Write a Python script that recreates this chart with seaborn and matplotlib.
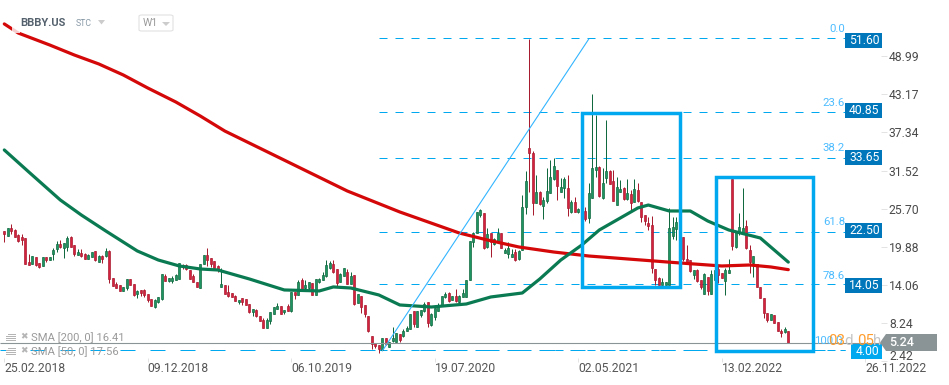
#!/usr/bin/env python3
# BBBY.US weekly candles with SMA 200 / SMA 50 and fibonacci levels
# x axis is the candle number: the chart skips some weeks, so dates are only labels

import pandas as pd
import seaborn as sns
import matplotlib.pyplot as plt
from matplotlib.patches import Polygon, Rectangle, FancyBboxPatch

opens = [
    22.31,21.6,22.72,22.41,21.75,21.45,21.24,17.58,17.23,18.3,17.38,16.92,18.3,17.94,18.8,
    19.57,20.33,19.77,19.92,21.4,20.13,18.7,18.9,18.8,18.09,18.35,19.21,17.63,18.45,18.5,
    19.26,15.14,14.23,14.02,13.21,13.67,14.94,14.18,12.7,13.26,13.31,12.65,11.89,10.72,11.48,
    11.93,15.39,14.73,14.73,14.88,15.03,17.12,17.12,16.3,15.39,14.58,13.66,17.27,18.64,18.14,
    17.68,16.97,13.76,14.07,12.95,12.8,12.39,11.53,12.03,11.88,11.12,9.95,10.2,9.29,8.68,
    7.56,8.58,9.64,10.46,10.81,9.9,10.81,10.1,13.0,12.59,14.83,13.66,13.56,14.37,12.59,
    14.58,14.88,15.44,16.71,17.22,16.51,14.53,15.49,16.0,14.27,15.59,11.37,12.34,10.97,9.34,
    6.29,5.28,4.87,4.16,5.94,4.56,5.58,5.38,6.55,6.29,7.11,7.41,10.11,7.72,9.5,
    10.16,11.43,7.97,9.24,10.16,10.97,12.29,12.8,11.79,12.39,11.48,12.19,12.29,14.84,20.68,
    21.95,24.8,25.01,19.92,22.06,20.33,20.68,21.95,19.0,18.75,18.4,19.11,18.04,19.41,25.92,
    34.92,34.16,26.63,28.26,26.18,26.94,28.16,30.19,31.62,28.26,28.82,28.82,25.26,26.68,25.26,
    25.41,25.31,24.29,27.29,31.62,32.07,27.29,30.45,31.46,29.89,26.28,28.31,28.87,27.14,27.95,
    26.79,28.62,26.68,24.74,23.47,23.17,16.51,15.19,14.07,14.07,14.07,21.59,22.56,22.46,21.44,
    17.98,17.88,15.59,16.36,14.83,12.69,15.34,12.64,14.83,16.46,15.85,14.73,15.95,30.19,19.91,
    21.95,22.05,23.07,19.41,17.37,17.22,13.71,12.03,9.74,8.73,9.49,8.47,7.1,6.95,7.0,
]
closes = [
    21.91,22.72,22.36,21.35,20.84,20.99,17.33,17.18,18.45,17.13,16.82,18.3,17.89,18.35,19.41,
    20.33,19.87,20.43,21.19,19.92,18.8,19.11,18.55,18.09,18.6,19.06,17.89,18.5,18.09,19.21,
    14.99,13.97,13.67,13.21,13.72,14.94,14.12,12.5,13.16,12.85,12.55,11.79,10.87,11.79,12.24,
    15.75,14.73,15.08,15.13,15.54,17.37,16.86,16.46,15.03,14.47,13.71,17.22,18.64,17.93,17.22,
    16.61,16.51,14.17,12.75,12.39,12.29,11.68,11.83,11.53,11.07,10.0,10.36,9.34,8.63,7.56,
    8.68,9.9,10.66,10.86,9.69,10.2,10.15,13.05,12.59,14.53,13.51,14.02,14.47,12.59,14.93,
    14.98,15.54,17.12,17.42,16.1,14.42,15.7,16.61,14.27,15.49,11.17,12.69,10.67,9.65,7.11,
    5.07,4.82,4.26,5.94,5.07,5.43,5.94,6.7,5.68,7.06,7.51,9.6,8.07,10.11,10.26,
    11.17,8.23,9.65,10.51,10.97,12.39,12.7,11.63,12.39,11.68,12.39,12.8,14.84,20.79,22.06,
    25.21,25.51,19.67,21.85,20.68,21.04,22.06,19.77,19.41,19.67,18.8,17.89,19.31,26.02,29.89,
    34.26,26.63,28.21,26.43,27.04,28.41,30.5,32.23,29.23,29.02,30.24,25.87,26.79,25.26,25.67,
    25.11,24.19,28.06,31.87,32.02,27.65,29.58,31.41,29.48,26.94,28.97,28.72,27.19,28.11,26.63,
    28.72,26.94,24.49,23.88,23.07,16.71,14.83,14.07,14.47,14.47,22.71,22.86,23.63,21.19,17.98,
    17.58,16.25,16.3,14.68,13.81,15.69,13.2,15.69,16.36,15.59,15.19,16.36,16.36,20.02,22.1,
    22.86,22.71,19.66,17.63,18.49,13.71,12.03,9.74,8.73,9.59,8.22,7.1,6.69,7.35,5.24,
]
highs = [
    22.31,22.72,23.33,22.62,21.85,21.85,21.24,18.75,18.45,18.3,17.38,18.3,18.3,18.35,19.77,
    20.74,20.94,20.43,21.55,21.55,20.13,19.57,19.57,19.01,18.8,19.06,19.21,18.6,18.65,19.67,
    19.41,15.14,14.53,14.02,13.72,14.94,14.94,14.18,13.26,13.26,13.41,12.65,11.89,11.89,12.29,
    15.75,15.7,15.19,15.49,15.7,17.37,17.22,17.22,16.3,15.7,14.58,17.22,18.64,19.66,18.14,
    17.68,17.12,16.61,14.07,14.07,12.8,12.54,11.83,12.03,11.88,11.12,10.36,10.36,9.29,8.98,
    8.98,9.9,10.66,11.27,10.81,10.2,11.12,13.05,13.0,14.83,15.08,14.88,14.47,14.37,14.93,
    15.08,16.0,17.88,17.73,17.88,16.51,15.85,16.61,16.51,16.0,15.59,12.69,12.34,10.97,9.34,
    6.29,5.28,4.87,5.94,5.94,5.43,7.72,6.7,6.55,7.31,7.82,9.6,10.11,10.11,10.26,
    11.53,11.43,9.75,10.51,11.28,12.39,13.06,13.06,12.39,13.41,12.55,13.41,14.84,20.79,22.16,
    25.21,25.62,25.01,22.72,22.06,21.19,22.72,21.95,19.67,20.68,19.51,19.51,19.41,27.8,31.46,
    51.6,34.46,30.85,28.46,27.45,31.87,33.14,33.4,31.62,30.34,30.5,30.85,27.04,27.45,25.87,
    25.92,26.02,29.58,43.21,40.0,32.23,31.87,39.24,31.62,31.62,30.6,30.09,29.07,30.19,28.57,
    30.19,29.58,26.68,24.74,24.49,24.59,16.51,15.34,15.08,14.47,25.76,24.49,24.49,23.47,21.44,
    20.17,17.88,16.3,16.56,14.83,15.85,15.34,16.36,16.36,17.12,15.95,16.61,17.98,30.19,22.1,
    25.0,28.81,23.98,20.17,18.49,17.22,13.71,12.03,9.85,9.59,9.49,8.47,7.3,7.61,7.0,
]
lows = [
    20.68,21.6,21.85,21.35,20.68,20.23,17.33,17.18,17.23,17.02,16.72,16.92,17.63,17.94,17.89,
    19.16,19.67,18.24,19.26,19.92,18.55,18.7,18.35,18.04,18.04,18.3,17.79,17.63,17.43,18.4,
    14.43,13.97,13.62,13.21,13.21,13.31,14.12,12.4,12.09,12.4,12.19,11.53,10.87,10.57,11.28,
    11.78,14.68,14.58,14.42,14.88,15.03,16.51,16.36,15.03,14.47,13.71,13.66,17.27,17.02,16.76,
    16.61,16.1,13.76,12.75,12.29,12.29,11.63,11.22,11.02,11.07,9.85,9.39,9.14,8.63,7.56,
    7.56,8.07,9.64,10.46,9.69,9.69,10.1,10.0,11.93,12.59,13.46,13.3,13.25,12.59,12.59,
    14.32,14.88,15.34,16.51,15.85,13.81,14.53,15.49,14.17,14.27,11.02,11.27,9.85,9.24,6.95,
    4.31,4.41,3.75,4.16,4.87,4.56,5.43,5.38,5.38,6.19,7.11,7.31,7.72,7.72,9.24,
    10.0,7.72,7.82,8.73,10.16,10.97,12.04,11.53,11.79,11.53,11.38,12.19,12.29,14.84,19.92,
    21.95,24.4,19.57,19.67,18.29,20.17,20.68,19.67,18.9,18.14,18.29,17.79,17.89,19.41,24.9,
    28.31,24.75,26.63,26.28,24.19,26.53,28.06,30.09,27.04,28.26,27.29,24.6,25.11,25.16,25.11,
    24.25,23.89,23.48,27.29,30.6,27.45,27.14,29.58,29.43,26.94,26.28,28.31,27.04,27.04,25.51,
    26.79,26.79,23.73,23.22,22.46,15.95,14.07,14.07,14.07,14.07,14.07,21.08,20.93,20.93,17.78,
    17.37,16.1,14.93,14.58,13.41,12.69,12.54,12.64,14.83,14.32,15.08,12.54,15.95,19.41,19.66,
    21.69,21.95,19.51,15.95,15.24,13.71,12.03,8.98,8.47,8.73,8.22,7.05,6.18,6.69,5.24,
]

# SMA values read at some candle numbers
sma200_idx = [0,4,13,20,27,34,41,49,56,63,70,84,98,113,130,138,147,157,167,182,193,205,213,219,224]
sma200_vals = [53.9,52.51,50.68,49.16,47.79,46.11,44.12,41.99,39.85,37.56,35.73,32.07,28.41,25.21,
               22.0,20.94,19.87,19.1,18.49,17.88,17.43,16.97,17.12,16.82,16.41]
sma50_idx = [0,7,16,22,29,38,44,50,56,61,70,80,90,94,99,107,113,122,132,139,148,153,159,165,170,
             176,181,184,190,196,201,207,216,224]
sma50_vals = [34.67,31.31,27.04,24.75,22.31,19.26,17.88,16.97,16.51,16.36,14.99,13.31,13.16,13.77,
              13.61,12.55,11.02,10.71,11.17,12.24,12.85,14.99,17.88,20.17,22.46,24.29,25.82,26.27,
              25.36,25.36,23.83,22.46,21.24,17.56]

# Where the dashed levels lie and what their tags print: they differ a little in the source
fib_lines = [51.68, 40.39, 33.52, 22.23, 14.15, 4.08]
fib_tags = [51.60, 40.85, 33.65, 22.50, 14.05, 4.00]
fib_names = ["0.0", "23.6", "38.2", "61.8", "78.6", "100.0"]
last_price = 5.24
y_ticks = [48.99, 43.17, 37.34, 31.52, 25.70, 19.88, 14.06, 8.24]
date_idx = [0, 41, 82, 123, 164, 205, 246]
date_labels = ["25.02.2018", "09.12.2018", "06.10.2019", "19.07.2020", "02.05.2021", "13.02.2022", "26.11.2022"]

RED = "#d4213d"
RED_EDGE = "#a81c30"
GREEN = "#1f9463"
GREEN_EDGE = "#10693f"
CYAN = "#00a8f0"
FIB_TXT = "#4dbcff"
BOX_DARK = "#0077bb"
W, H = 949, 385


def fx(x):
    return x / W


def fy(y):
    return 1 - y / H


def main():
    sns.set_theme(style="white")
    plt.rcParams["font.family"] = ["Roboto", "DejaVu Sans"]

    df = pd.DataFrame({"open": opens, "close": closes, "high": highs, "low": lows})
    df["up"] = df["close"] >= df["open"]

    fig = plt.figure(figsize=(W / 100, H / 100), dpi=100, facecolor="white")
    ax = fig.add_axes([0, 1 - 362 / H, 881 / W, 362 / H])
    ax.patch.set_alpha(0)

    # Candles: wicks then bodies
    ax.vlines(df.index, df["low"], df["high"],
              colors=[GREEN_EDGE if u else RED_EDGE for u in df["up"]], lw=0.72, zorder=2)
    ax.bar(df.index, (df["close"] - df["open"]).abs().clip(lower=0.25),
           bottom=df[["open", "close"]].min(axis=1), width=0.66,
           color=[GREEN if u else RED for u in df["up"]],
           edgecolor=[GREEN_EDGE if u else RED_EDGE for u in df["up"]], linewidth=0.5, zorder=3)

    # Moving averages
    sns.lineplot(x=sma200_idx, y=sma200_vals, color="#d40808", lw=2.3, errorbar=None, ax=ax, zorder=4)
    sns.lineplot(x=sma50_idx, y=sma50_vals, color="#0a7a52", lw=2.3, errorbar=None, ax=ax, zorder=4)

    # Fibonacci levels and the line they are drawn from
    ax.hlines(fib_lines, 107, 240.2, colors=CYAN, lw=0.72, linestyles=[(0, (8, 8))], zorder=1)
    ax.hlines(fib_lines[-1], -1.3, 240.2, colors=CYAN, lw=0.72, linestyles=[(0, (15, 15))], zorder=1)
    ax.plot([108, 167], [fib_tags[-1], fib_tags[0]], color="#33b5ff", lw=0.8, zorder=5)
    ax.hlines(last_price, -1.3, 251, colors="#8a9396", lw=0.8, zorder=5)

    # Highlight boxes
    for x0, x1, p0, p1 in [(165.2, 193.2, 13.77, 40.36), (203.3, 231.0, 3.95, 30.5)]:
        ax.add_patch(Rectangle((x0, p0), x1 - x0, p1 - p0, fill=False, ec=CYAN, lw=2.5, zorder=6))

    ax.set_xlim(-4.3 / 3.5, 876.7 / 3.5)
    ax.set_ylim(2.32, 57.55)
    ax.set_xlabel("")
    ax.set_ylabel("")
    sns.despine(ax=ax, left=True, right=True, top=True, bottom=True)

    ax.yaxis.tick_right()
    ax.set_yticks(y_ticks + [2.42])
    ax.set_yticklabels([f"{v:.2f}" for v in y_ticks] + [""])
    ax.tick_params(axis="y", right=True, length=4.3, width=0.7, color="#e3e3e3", pad=1.4,
                   labelsize=8.7, labelcolor="#4a4a4a")
    ax.annotate("2.42", xy=(1, 2.42), xycoords=ax.get_yaxis_transform(), xytext=(8, 5),
                textcoords="offset pixels", fontsize=8.7, color="#4a4a4a", va="center",
                annotation_clip=False)

    ax.set_xticks(date_idx)
    ax.set_xticklabels(date_labels, ha="left")
    ax.tick_params(axis="x", bottom=True, direction="in", length=3, width=0.7, color="#e3e3e3", pad=0,
                   labelsize=8.7, labelcolor="#555555")

    # Price tags and fib percentages on the right
    tag_tops = [33, 103, 150, 222.7, 278]
    for tag, top in zip(fib_tags[:-1], tag_tops):
        fig.patches.append(Rectangle((fx(845), fy(top + 15)), 37 / W, 15 / H, transform=fig.transFigure,
                                     fc=BOX_DARK, ec="none", figure=fig))
        fig.text(fx(849), fy(top + 7.5), f"{tag:.2f}", color="white", fontsize=8.7, va="center")
    fig.patches.append(Rectangle((fx(851), fy(359)), 31 / W, 15 / H, transform=fig.transFigure,
                                 fc=CYAN, ec="none", figure=fig))
    fig.text(fx(856), fy(351.5), f"{fib_tags[-1]:.2f}", color="white", fontsize=8.7, va="center")

    for name, y in zip(fib_names, [29, 103, 148, 222, 276, 341]):
        fig.text(fx(845 if name != "100.0" else 843), fy(y), name, color=FIB_TXT, fontsize=8.2,
                 ha="right", va="center")

    # Countdown drawn over the 100.0 label
    for txt, x, col in [("03", 828, "#ff9d2e"), ("d", 844, "#c4c4c4"), ("05", 857, "#ff9d2e"), ("h", 873, "#c4c4c4")]:
        fig.text(fx(x), fy(341), txt, color=col, fontsize=10.8, va="center")

    # Last price arrow tag
    fig.patches.append(Polygon([(fx(880), fy(342.5)), (fx(886), fy(334)), (fx(937), fy(334)),
                                (fx(937), fy(351)), (fx(886), fy(351))], transform=fig.transFigure,
                               fc="#8a9396", ec="none", figure=fig))
    fig.text(fx(889), fy(342.5), f"{last_price:.2f}", color="white", fontsize=9, fontweight="medium", va="center")

    # Instrument header
    fig.patches.append(Rectangle((fx(12), fy(33)), 8 / W, 18 / H, transform=fig.transFigure,
                                 fc="white", alpha=0.8, ec="none", figure=fig))
    fig.text(fx(20), fy(23), "BBBY.US", color="#55626e", fontsize=8, fontweight="bold", va="center")
    fig.text(fx(76), fy(24), "STC", color="#8899a6", fontsize=6.3, va="center")
    fig.patches.append(Polygon([(fx(98), fy(20)), (fx(105), fy(20)), (fx(101.5), fy(24.5))],
                               transform=fig.transFigure, fc="#cccccc", ec="none", figure=fig))
    fig.patches.append(FancyBboxPatch((fx(139), fy(31)), 34 / W, 16 / H, boxstyle="round,pad=0,rounding_size=0.003",
                                      transform=fig.transFigure, fc="white", ec="#e2e2e2", lw=0.8, figure=fig))
    fig.text(fx(143), fy(23), "W1", color="#999999", fontsize=7.6, va="center")
    fig.patches.append(Polygon([(fx(162), fy(22)), (fx(170), fy(22)), (fx(166), fy(26))],
                               transform=fig.transFigure, fc="#cccccc", ec="none", figure=fig))

    # SMA legend with its small icons
    for y, label in [(338, "SMA [200, 0] 16.41"), (352, "SMA [50, 0] 17.56")]:
        for dy, lft in [(-4, 8), (-2, 6), (0, 6), (2, 6)]:
            fig.patches.append(Rectangle((fx(lft), fy(y + dy + 0.7)), (16 - lft) / W, 1.2 / H,
                                         transform=fig.transFigure, fc="#b5b5b5", ec="none", figure=fig))
        fig.text(fx(24), fy(y - 1), "\u2716", color="#b5b5b5", fontsize=6.5, ha="center", va="center",
                 family="DejaVu Sans")
        fig.text(fx(31.5), fy(y), label, color="#9a9a9a", fontsize=8.1, va="center")

    fig.savefig("out.png", dpi=100)


if __name__ == "__main__":
    main()
